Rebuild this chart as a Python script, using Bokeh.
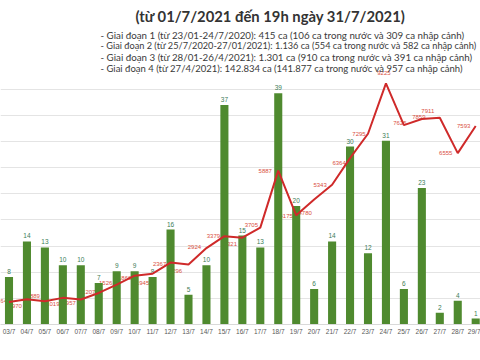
from bokeh.plotting import figure
from bokeh.models import Range1d, FixedTicker, ColumnDataSource
from bokeh.core.properties import value
from bokeh.embed import file_html
from bokeh.resources import INLINE

# ---------------- data ----------------
dates = ["03/7", "04/7", "05/7", "06/7", "07/7", "08/7", "09/7", "10/7", "11/7",
         "12/7", "13/7", "14/7", "15/7", "16/7", "17/7", "18/7", "19/7", "20/7",
         "21/7", "22/7", "23/7", "24/7", "25/7", "26/7", "27/7", "28/7", "29/7"]
day = [3, 4, 5, 6, 7, 8, 9, 10, 11, 12, 13, 14, 15, 16, 17, 18, 19, 20,
       21, 22, 23, 24, 25, 26, 27, 28, 29]
imported = [8, 14, 13, 10, 10, 7, 9, 9, 8, 16, 5, 10, 37, 15, 13, 39, 20, 6,
            14, 30, 12, 31, 6, 23, 2, 4, 1]
domestic = [864, 970, 889, 1019, 957, 1207, 1526, 1866, 1945, 2367, 2296, 2924,
            3379, 3321, 3705, 5887, 4175, 4780, 5343, 6364, 7295, 9225, 7625,
            7859, 7911, 6555, 7593]

title_text = "(từ 01/7/2021 đến 19h ngày 31/7/2021)"
info_lines = [
    "- Giai đoạn 1 (từ 23/01-24/7/2020): 415 ca (106 ca trong nước và 309 ca nhập cảnh)",
    "- Giai đoạn 2 (từ 25/7/2020-27/01/2021): 1.136 ca (554 ca trong nước và 582 ca nhập cảnh)",
    "- Giai đoạn 3 (từ 28/01-26/4/2021): 1.301 ca (910 ca trong nước và 391 ca nhập cảnh)",
    "- Giai đoạn 4 (từ 27/4/2021): 142.834 ca (141.877 ca trong nước và 957 ca nhập cảnh)",
]
info_sizes = ["9.75px", "9.2px", "9.75px", "9.5px"]

# label placement offsets (pixels) for line labels
lab_dx = [-7, -10, -10, -10, -10, -10, -11, -10, -10, -11, -13, -12, -11, -12,
          -9, -13, -10, -9, -12, -11, -9, -2, -4, -3, -12, -12, -12]
lab_dy = [-1, 7, -5, 6, 4, -1, -2, 2, 9, 1, 7, -1, 0, 6, -3, 0, 1, 13, 0, 5,
          0, -10, -2, -2, -7, 0, 0]

# ---------------- layout ----------------
UNIT = 17.95          # px per day
X0 = 3 - 8.5 / UNIT   # data x at frame left
FW, FH = 480, 324
LINE_PER_PX = 38.25
BAR_PX_PER = 5.93

p = figure(frame_width=FW, frame_height=FH, output_backend="svg",
           toolbar_location=None, min_border=0, min_border_bottom=36,
           x_range=Range1d(X0, X0 + FW / UNIT),
           y_range=Range1d(0, FH * LINE_PER_PX))
p.extra_y_ranges = {"bars": Range1d(0, FH / BAR_PX_PER)}
p.outline_line_color = None
p.background_fill_color = "white"
p.border_fill_color = "white"

p.yaxis.visible = False
p.yaxis.ticker = FixedTicker(ticks=[i * 1000 for i in range(0, 10)])
p.ygrid.grid_line_color = "#e4e4e4"
p.ygrid.grid_line_width = 1
p.xgrid.visible = False

p.xaxis.ticker = FixedTicker(ticks=day)
p.xaxis.major_label_overrides = {d: s for d, s in zip(day, dates)}
p.xaxis.axis_line_color = "#d9d9d9"
p.xaxis.major_tick_line_color = None
p.xaxis.minor_tick_line_color = None
p.xaxis.major_label_text_font_size = "6.5px"
p.xaxis.major_label_text_color = "#595959"
p.xaxis.major_label_text_font = "Liberation Sans"
p.xaxis.major_label_standoff = -3

src = ColumnDataSource(dict(day=day, imported=imported, domestic=domestic,
                            ilab=[str(v) for v in imported],
                            dlab=[str(v) for v in domestic],
                            dx=lab_dx, dy=lab_dy))

# line labels (under bars)
p.text(x="day", y="domestic", text="dlab", source=src, x_offset="dx", y_offset="dy",
       text_align="center", text_baseline="middle", text_font_size="6px",
       text_color="#d9503f", text_font=value("Liberation Sans"))

# bars
p.vbar(x="day", top="imported", bottom=0, width=0.45, source=src,
       y_range_name="bars", fill_color="#4f8a2f", line_color=None)
p.text(x="day", y="imported", text="ilab", source=src, y_range_name="bars",
       y_offset=-3, text_align="center", text_baseline="bottom",
       text_font_size="6.5px", text_color="#3d7d58",
       text_font=value("Liberation Sans"))

# line
p.line(x="day", y="domestic", source=src, line_color="#cf2a2a", line_width=2)

# header text
def dx_(px):
    return X0 + px / UNIT

def dy_(py):
    return (FH - py) * LINE_PER_PX

p.text(x=[dx_(270)], y=[dy_(15)], text=[title_text], text_align="center",
       text_baseline="middle", text_font_size="14.8px", text_font_style="bold",
       text_color="#333333", text_font=value("Lato"))
ys = [34, 45, 56, 67.5]
p.text(x=[dx_(100)] * 4, y=[dy_(v) for v in ys], text=info_lines,
       text_align="left", text_baseline="middle", text_font_size=info_sizes,
       text_color="#3a3a3a", text_font=value("Lato"))

open("out.html", "w").write(file_html(p, INLINE))
